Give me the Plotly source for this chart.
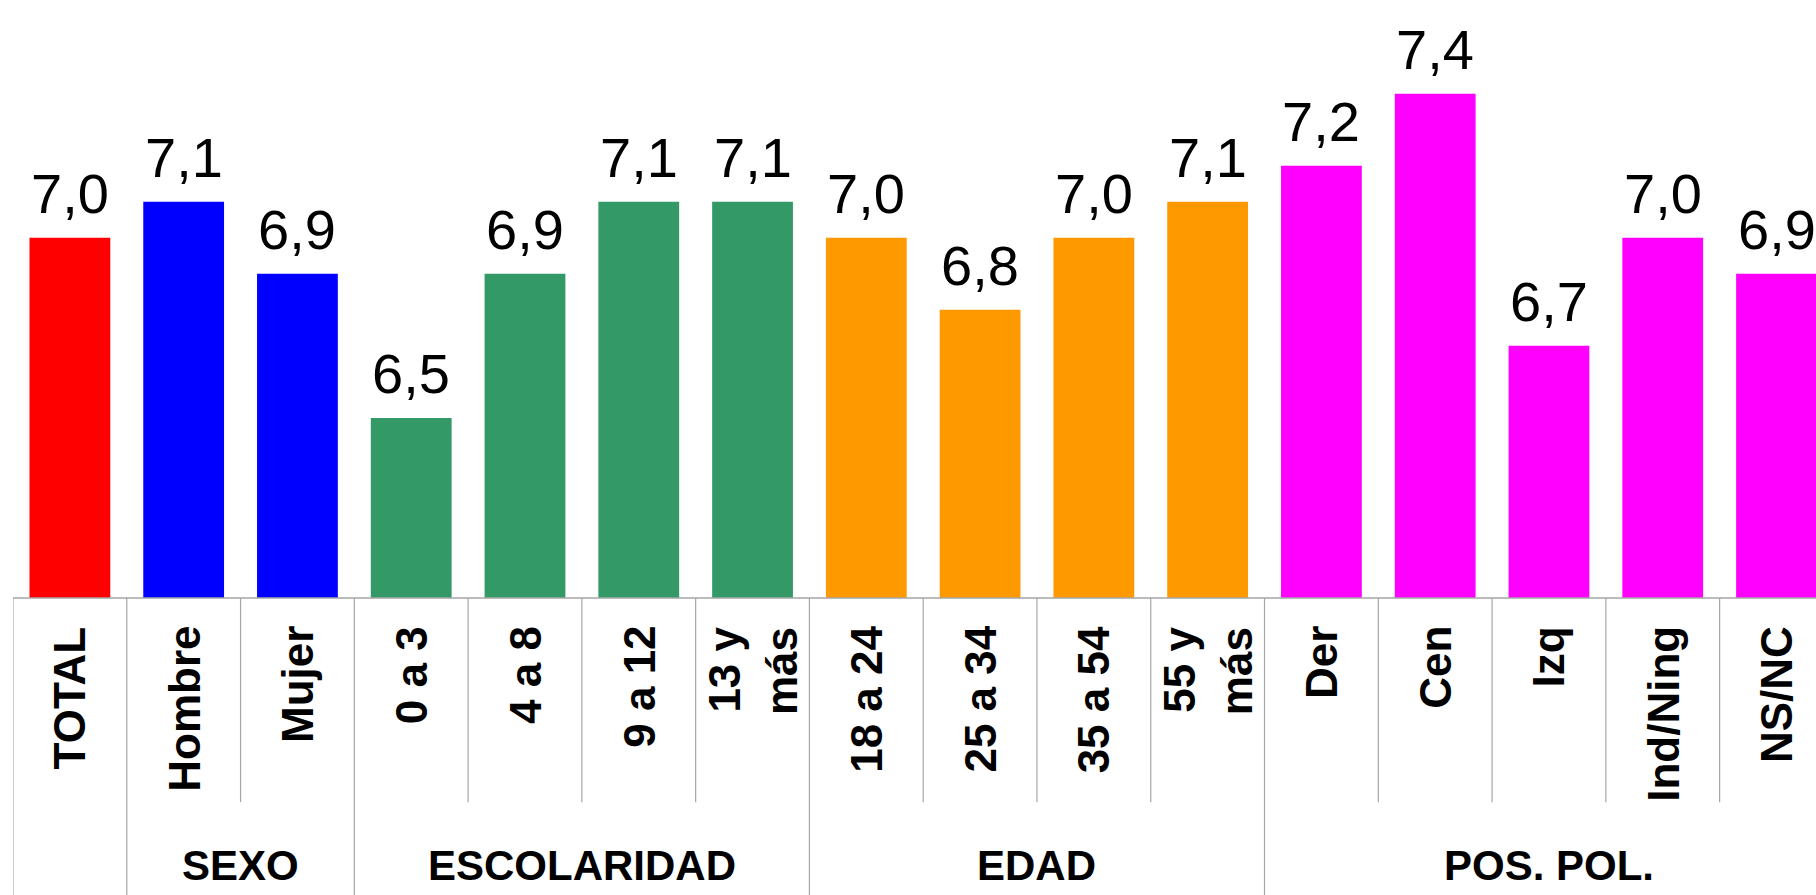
import plotly.graph_objects as go

categories = ["TOTAL", "Hombre", "Mujer", "0 a 3", "4 a 8", "9 a 12", "13 y<br>más",
              "18 a 24", "25 a 34", "35 a 54", "55 y<br>más",
              "Der", "Cen", "Izq", "Ind/Ning", "NS/NC"]
values = [7.0, 7.1, 6.9, 6.5, 6.9, 7.1, 7.1, 7.0, 6.8, 7.0, 7.1, 7.2, 7.4, 6.7, 7.0, 6.9]
groups = ["TOTAL", "SEXO", "SEXO", "ESCOLARIDAD", "ESCOLARIDAD", "ESCOLARIDAD", "ESCOLARIDAD",
          "EDAD", "EDAD", "EDAD", "EDAD",
          "POS. POL.", "POS. POL.", "POS. POL.", "POS. POL.", "POS. POL."]
group_labels = ["SEXO", "ESCOLARIDAD", "EDAD", "POS. POL."]
group_colors = {"TOTAL": "#FF0000", "SEXO": "#0000FF", "ESCOLARIDAD": "#339966",
                "EDAD": "#FF9900", "POS. POL.": "#FF00FF"}

W, H = 1816, 895
ML, MB = 12.6, 297.4
PLOT_H = H - MB
FONT = "Liberation Sans, Arial, sans-serif"

idx = list(range(len(categories)))
colors = [group_colors[g] for g in groups]
texts = [f"{v:.1f}".replace(".", ",") for v in values]

fig = go.Figure()
fig.add_trace(go.Bar(
    x=idx, y=values, marker=dict(color=colors, line=dict(width=0)),
    width=0.71, hoverinfo="skip",
))

cat_w = 113.8
x_right = -0.5 + (W - ML) / cat_w

shapes = []
gray = "#A6A6A6"
shapes.append(dict(type="line", xref="x", yref="paper", x0=-0.5, x1=x_right, y0=0, y1=0,
                   line=dict(color=gray, width=1.5)))
inner_bottom = -(802 - 598) / PLOT_H
full_bottom = -(H - 598 + 5) / PLOT_H
for i in range(len(categories) + 1):
    xpos = i - 0.5
    if i == 0 or i == len(categories) or groups[i] != groups[i - 1]:
        ybot = full_bottom
    else:
        ybot = inner_bottom
    shapes.append(dict(type="line", xref="x", yref="paper", x0=xpos, x1=xpos, y0=0, y1=ybot,
                       line=dict(color=gray, width=1.2)))

annotations = []
# value labels above bars
for i, (v, t) in enumerate(zip(values, texts)):
    annotations.append(dict(x=i, y=v, xref="x", yref="y", text=t, showarrow=False,
                            xanchor="center", yanchor="bottom", yshift=11,
                            font=dict(family=FONT, size=56, color="#000000")))
# category labels
for i, c in enumerate(categories):
    annotations.append(dict(x=i, y=0, xref="x", yref="paper", text=f"<b>{c}</b>",
                            showarrow=False, textangle=-90, xanchor="center", yanchor="top",
                            yshift=-26, align="right",
                            font=dict(family=FONT, size=44, color="#000000")))
# group labels
for g in group_labels:
    members = [i for i, gg in enumerate(groups) if gg == g]
    cx = (members[0] + members[-1]) / 2
    annotations.append(dict(x=cx, y=0, xref="x", yref="paper", text=f"<b>{g}</b>",
                            showarrow=False, xanchor="center", yanchor="middle",
                            yshift=-(865 - 598),
                            font=dict(family=FONT, size=42, color="#000000")))

fig.update_layout(
    width=W, height=H,
    margin=dict(l=ML, r=0, t=0, b=MB, pad=0),
    paper_bgcolor="white", plot_bgcolor="white",
    showlegend=False,
    xaxis=dict(range=[-0.5, x_right], showticklabels=False, showgrid=False, zeroline=False,
               showline=False, ticks="", fixedrange=True),
    yaxis=dict(range=[6.0, 6.0 + PLOT_H / 360.0], showticklabels=False, showgrid=False,
               zeroline=False, showline=False, ticks="", fixedrange=True),
    shapes=shapes, annotations=annotations,
)

fig.write_html("out.html", config={"displayModeBar": False},
               post_script="document.body.style.margin='0px';document.body.style.overflow='hidden';")
